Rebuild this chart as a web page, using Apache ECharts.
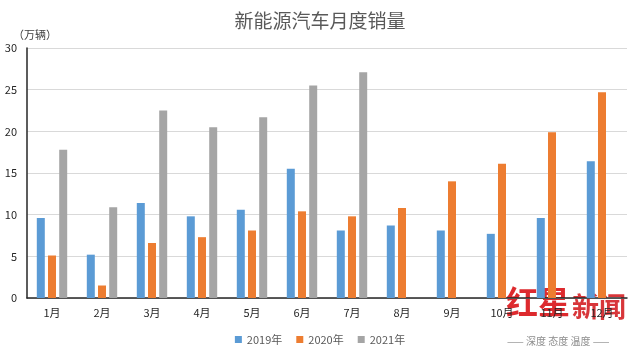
<!DOCTYPE html>
<html><head><meta charset="utf-8">
<script src="https://cdn.jsdelivr.net/npm/echarts@6/dist/echarts.min.js"></script>
<style>html,body{margin:0;padding:0;background:#fff}#c{width:640px;height:357px}</style>
</head><body><div id="c"></div>
<script>
const categories = ['1月','2月','3月','4月','5月','6月','7月','8月','9月','10月','11月','12月'];
const seriesNames = ['2019年','2020年','2021年'];
const s2019 = [9.6, 5.2, 11.4, 9.8, 10.6, 15.5, 8.1, 8.7, 8.1, 7.7, 9.6, 16.4];
const s2020 = [5.1, 1.5, 6.6, 7.3, 8.1, 10.4, 9.8, 10.8, 14.0, 16.1, 19.9, 24.7];
const s2021 = [17.8, 10.9, 22.5, 20.5, 21.7, 25.5, 27.1, null, null, null, null, null];
const yTicks = [0, 5, 10, 15, 20, 25, 30];
const colors = ['#5B9BD5', '#ED7D31', '#A5A5A5'];
const font = '"Noto Sans CJK SC", "Microsoft YaHei", sans-serif';

const chart = echarts.init(document.getElementById('c'), null, {renderer: 'canvas'});
const data = [s2019, s2020, s2021];
chart.setOption({
  animation: false,
  backgroundColor: '#fff',
  textStyle: {fontFamily: font},
  title: {
    text: '新能源汽车月度销量', left: 'center', top: 6,
    textStyle: {fontSize: 19, fontWeight: 'normal', color: '#595959', fontFamily: font}
  },
  legend: {
    data: seriesNames, bottom: 7, left: 'center', itemWidth: 7, itemHeight: 7, itemGap: 14,
    icon: 'rect', textStyle: {fontSize: 11, color: '#595959', fontFamily: font}
  },
  grid: {left: 27, right: 13, top: 48, bottom: 59, containLabel: false, outerBoundsMode: 'none'},
  xAxis: {
    type: 'category', data: categories,
    axisLine: {lineStyle: {color: '#262626', width: 1.5}},
    axisTick: {show: false},
    axisLabel: {fontSize: 11, color: '#262626', margin: 9, fontFamily: font}
  },
  yAxis: {
    type: 'value', min: yTicks[0], max: yTicks[yTicks.length - 1], interval: yTicks[1] - yTicks[0],
    name: '（万辆）', nameLocation: 'end', nameGap: 8,
    nameTextStyle: {fontSize: 11, color: '#404040', align: 'left', padding: [0, 0, 0, -14]},
    axisLine: {show: true, lineStyle: {color: '#262626', width: 1.5}},
    axisTick: {show: false},
    splitLine: {lineStyle: {color: '#D9D9D9'}},
    axisLabel: {fontSize: 11, color: '#262626', margin: 10, fontFamily: font}
  },
  series: seriesNames.map((n, i) => ({
    name: n, type: 'bar', data: data[i], barWidth: 8, barGap: '40%',
    itemStyle: {color: colors[i]}
  })),
  graphic: [
    {type: 'text', left: 506, top: 286, style: {text: '红星', fill: '#DD2A2E', font: 'bold 32px "Noto Sans CJK SC", serif'}},
    {type: 'text', left: 572, top: 293, style: {text: '新闻', fill: '#D8363A', font: 'bold 27px "Noto Sans CJK SC", serif'}},
    {type: 'text', left: 507, top: 336, style: {text: '—— 深度 态度 温度 ——', fill: '#8c8c8c', font: '10px "Noto Sans CJK SC", sans-serif'}}
  ]
});
</script></body></html>
